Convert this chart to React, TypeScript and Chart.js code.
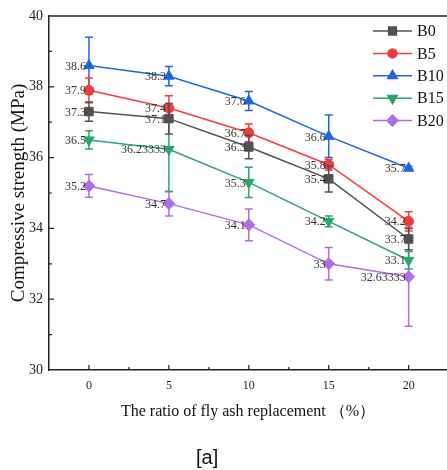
import { useEffect, useRef } from 'react';
import { Chart, registerables } from 'chart.js';
import { drawPoint } from 'chart.js/helpers';

Chart.register(...registerables);

// Fly ash replacement ratio (%)
const ratios = [0, 5, 10, 15, 20];
const seriesNames = ['B0', 'B5', 'B10', 'B15', 'B20'];

// Mean compressive strength (MPa)
const b0 = [37.3, 37.1, 36.3, 35.4, 33.7];
const b5 = [37.9, 37.4, 36.7, 35.8, 34.2];
const b10 = [38.6, 38.3, 37.6, 36.6, 35.7];
const b15 = [36.5, 36.23333, 35.3, 34.2, 33.1];
const b20 = [35.2, 34.7, 34.1, 33, 32.63333];

// Standard deviation (MPa)
const b0Err = [0.27, 0.43, 0.33, 0.37, 0.3];
const b5Err = [0.35, 0.35, 0.25, 0.15, 0.27];
const b10Err = [0.8, 0.27, 0.27, 0.6, 0.05];
const b15Err = [0.26, 1.2, 0.43, 0.15, 0.25];
const b20Err = [0.32, 0.35, 0.45, 0.46, 1.4];

const xTickValues = [0, 5, 10, 15, 20];
const yTickValues = [30, 32, 34, 36, 38, 40];

const colors = ['#505050', '#f23d3d', '#1e66e0', '#2ba56a', '#b06ee2'];
const pointStyles = ['rect', 'circle', 'triangle', 'triangle', 'rectRot'];
const pointRotations = [0, 0, 0, 180, 0];
const pointRadii = [6, 5, 6, 6, 6];

const values = [b0, b5, b10, b15, b20];
const errors = [b0Err, b5Err, b10Err, b15Err, b20Err];

const SERIF = "'Liberation Serif', 'Times New Roman', serif";

const errorBarPlugin = {
  id: 'errorBars',
  afterDatasetDraw(chart: any, args: any) {
    const i = args.index;
    const err = errors[i];
    const vals = values[i];
    const y = chart.scales.y;
    const ctx = chart.ctx;
    ctx.save();
    ctx.strokeStyle = colors[i];
    ctx.lineWidth = 1.5;
    args.meta.data.forEach((pt: any, j: number) => {
      const top = y.getPixelForValue(vals[j] + err[j]);
      const bot = y.getPixelForValue(vals[j] - err[j]);
      ctx.beginPath();
      ctx.moveTo(pt.x, top);
      ctx.lineTo(pt.x, bot);
      ctx.moveTo(pt.x - 4, top);
      ctx.lineTo(pt.x + 4, top);
      ctx.moveTo(pt.x - 4, bot);
      ctx.lineTo(pt.x + 4, bot);
      ctx.stroke();
    });
    ctx.restore();
  },
};

const frameAndLabelsPlugin = {
  id: 'frameAndLabels',
  afterDatasetsDraw(chart: any) {
    const ctx = chart.ctx;
    const { left, right, top, bottom } = chart.chartArea;
    const xs = chart.scales.x;
    const ys = chart.scales.y;
    ctx.save();
    // top frame line
    ctx.strokeStyle = '#222';
    ctx.lineWidth = 1.5;
    ctx.beginPath();
    ctx.moveTo(left, top);
    ctx.lineTo(right, top);
    ctx.stroke();
    // inward ticks
    ctx.lineWidth = 1.2;
    ctx.beginPath();
    for (let v = 31; v < 40; v++) {
      const py = ys.getPixelForValue(v);
      const len = v % 2 === 0 ? 5 : 3;
      ctx.moveTo(left, py);
      ctx.lineTo(left + len, py);
    }
    for (let v = 0; v <= 22.5; v += 2.5) {
      const px = xs.getPixelForValue(v);
      const len = v % 5 === 0 ? 5 : 3;
      ctx.moveTo(px, bottom);
      ctx.lineTo(px, bottom - len);
    }
    ctx.stroke();

    // value labels
    ctx.fillStyle = '#333';
    ctx.font = `12px ${SERIF}`;
    ctx.textAlign = 'right';
    ctx.textBaseline = 'middle';
    chart.data.datasets.forEach((ds: any, i: number) => {
      const meta = chart.getDatasetMeta(i);
      meta.data.forEach((pt: any, j: number) => {
        ctx.fillText(String(values[i][j]), pt.x - 3, pt.y + 1);
      });
    });

    // legend
    const lx = right - 74;
    let ly = top + 15;
    ctx.font = `16px ${SERIF}`;
    ctx.textAlign = 'left';
    ctx.textBaseline = 'middle';
    seriesNames.forEach((name, i) => {
      ctx.strokeStyle = colors[i];
      ctx.fillStyle = colors[i];
      ctx.lineWidth = 1.5;
      ctx.beginPath();
      ctx.moveTo(lx, ly);
      ctx.lineTo(lx + 39, ly);
      ctx.stroke();
      drawPoint(ctx, {
        pointStyle: pointStyles[i] as any,
        rotation: pointRotations[i],
        radius: pointRadii[i] - 0.5,
        borderWidth: 1,
      }, lx + 19.5, ly);
      ctx.fillStyle = '#111';
      ctx.fillText(name, lx + 44, ly + 1);
      ly += 22.4;
    });
    ctx.restore();
  },
};

export default function App() {
  const canvasRef = useRef<HTMLCanvasElement>(null);

  useEffect(() => {
    const canvas = canvasRef.current;
    if (!canvas) return;
    const chart = new Chart(canvas, {
      type: 'line',
      data: {
        datasets: seriesNames.map((name, i) => ({
          label: name,
          data: ratios.map((r, j) => ({ x: r, y: values[i][j] })),
          borderColor: colors[i],
          backgroundColor: colors[i],
          borderWidth: 1.5,
          pointStyle: pointStyles[i] as any,
          rotation: pointRotations[i],
          pointRadius: pointRadii[i],
          pointBorderWidth: 1,
          tension: 0,
        })),
      },
      options: {
        animation: false,
        responsive: true,
        maintainAspectRatio: false,
        layout: { autoPadding: false, padding: { top: 16, right: 0, left: 0, bottom: 0 } },
        plugins: {
          legend: { display: false },
          tooltip: { enabled: false },
        },
        scales: {
          x: {
            type: 'linear',
            min: -2.5,
            max: 22.4,
            afterBuildTicks: (s: any) => {
              s.ticks = xTickValues.map((value) => ({ value }));
            },
            afterFit: (s: any) => {
              s.height = 100;
              s.paddingLeft = 0;
              s.paddingRight = 0;
            },
            grid: { display: false, drawTicks: false },
            border: { display: true, color: '#222', width: 1.5 },
            ticks: {
              font: { family: SERIF, size: 12 },
              color: '#222',
              padding: 9,
              maxRotation: 0,
            },
            title: {
              display: true,
              text: 'The ratio of fly ash replacement （%）',
              font: { family: SERIF, size: 16 },
              color: '#111',
              padding: { top: 0, bottom: 49 },
            },
          },
          y: {
            type: 'linear',
            min: 30,
            max: 40,
            afterBuildTicks: (s: any) => {
              s.ticks = yTickValues.map((value) => ({ value }));
            },
            afterFit: (s: any) => {
              s.width = 49;
            },
            grid: { display: false, drawTicks: false },
            border: { display: true, color: '#222', width: 1.5 },
            ticks: {
              font: { family: SERIF, size: 14 },
              color: '#222',
              padding: 6,
            },
            title: {
              display: true,
              text: 'Compressive strength (MPa)',
              font: { family: SERIF, size: 19 },
              color: '#111',
              padding: { top: 8, bottom: 0 },
            },
          },
        },
      },
      plugins: [errorBarPlugin, frameAndLabelsPlugin],
    });
    return () => chart.destroy();
  }, []);

  return (
    <div style={{ position: 'absolute', left: 0, top: 0, width: 447, height: 470, background: '#fff', overflow: 'hidden' }}>
      <canvas ref={canvasRef} />
      <div
        style={{
          position: 'absolute',
          left: 196,
          top: 447,
          fontFamily: "'Liberation Sans', Arial, sans-serif",
          fontSize: 20,
          lineHeight: '20px',
          color: '#111',
        }}
      >
        [a]
      </div>
    </div>
  );
}
